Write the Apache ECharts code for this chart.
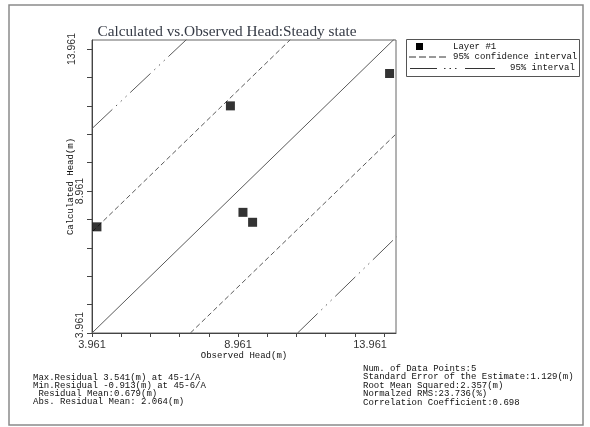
<!DOCTYPE html>
<html>
<head>
    <meta charset="utf-8">
    <title>Calculated vs. Observed Head</title>
    <script src="https://cdn.jsdelivr.net/npm/echarts@6/dist/echarts.min.js"></script>
    <style>
        html, body { margin: 0; padding: 0; background: #fff; }
        #chart { width: 590px; height: 427px; }
    </style>
</head>
<body>
    <div id="chart"></div>

    <script type="text/javascript">

    // values
    var observed   = [4.13, 8.70, 9.13, 9.46, 14.15];
    var calculated = [7.70, 11.96, 8.21, 7.86, 13.10];

    var tickValues = [3.961, 4.961, 5.961, 6.961, 7.961, 8.961, 9.961, 10.961, 11.961, 12.961, 13.961];
    var labelValues = [3.961, 8.961, 13.961];

    // reference lines (end points in head units)
    var oneToOne  = [[3.961, 3.961], [14.4, 14.4]];
    var confUpper = [[3.961, 7.52], [10.76, 14.3]];
    var confLower = [[7.33, 3.961], [14.4, 11.0]];
    var intUpper  = [[3.961, 11.16], [7.20, 14.3]];
    var intLower  = [[11.0, 3.961], [14.4, 7.36]];

    var leftStats = [
        'Max.Residual 3.541(m) at 45-1/A',
        'Min.Residual -0.913(m) at 45-6/A',
        ' Residual Mean:0.679(m)',
        'Abs. Residual Mean: 2.064(m)'
    ];
    var rightStats = [
        'Num. of Data Points:5',
        'Standard Error of the Estimate:1.129(m)',
        'Root Mean Squared:2.357(m)',
        'Normalzed RMS:23.736(%)',
        'Correlation Coefficient:0.698'
    ];

    var points = observed.map(function (x, i) { return [x, calculated[i]]; });

    var monoFont = '9px "Liberation Mono"';
    var textCol = '#111';
    var lineCol = '#5a5a5a';

    var myChart = echarts.init(document.getElementById('chart'), null, { renderer: 'canvas' });

    var option = {
        animation: false,
        backgroundColor: '#fff',
        title: {
            text: 'Calculated vs.Observed Head:Steady state',
            left: 222,
            top: 19,
            textAlign: 'center',
            textStyle: {
                fontFamily: 'Liberation Serif',
                fontWeight: 'normal',
                fontSize: 15.3,
                color: '#353a45'
            }
        },
        grid: {
            left: 92,
            top: 40,
            width: 304,
            height: 293,
            show: true,
            borderColor: '#666',
            borderWidth: 1
        },
        xAxis: {
            type: 'value',
            min: 3.961,
            max: 14.37,
            name: 'Observed Head(m)',
            nameLocation: 'middle',
            nameGap: 18,
            nameMoveOverlap: false,
            nameTextStyle: { fontFamily: 'Liberation Mono', fontSize: 9, color: textCol },
            axisLine: { show: true, onZero: false, lineStyle: { color: '#444' } },
            axisTick: { show: true, length: 4, customValues: tickValues, lineStyle: { color: '#444' } },
            splitLine: { show: false },
            axisLabel: {
                margin: 6,
                customValues: labelValues,
                fontFamily: 'Liberation Sans',
                fontSize: 11,
                color: '#333',
                formatter: function (v) {
                    var s = v.toFixed(3);
                    if (s === '13.961') return '{r|' + s + '}';
                    return s;
                },
                rich: {
                    r: { fontFamily: 'Liberation Sans', fontSize: 11, color: '#333', padding: [0, 28, 0, 0] }
                }
            }
        },
        yAxis: {
            type: 'value',
            min: 3.961,
            max: 14.28,
            name: 'Calculated Head(m)',
            nameLocation: 'middle',
            nameRotate: 90,
            nameGap: 17,
            nameMoveOverlap: false,
            nameTextStyle: { fontFamily: 'Liberation Mono', fontSize: 9, color: textCol },
            axisLine: { show: true, onZero: false, lineStyle: { color: '#444' } },
            axisTick: { show: true, length: 5, customValues: tickValues, lineStyle: { color: '#444' } },
            splitLine: { show: false },
            axisLabel: {
                margin: 6,
                rotate: 90,
                customValues: labelValues,
                fontFamily: 'Liberation Sans',
                fontSize: 10.5,
                color: '#333',
                formatter: function (v) {
                    var s = v.toFixed(3);
                    if (s === '3.961') return '{b|' + s + '}';
                    if (s === '13.961') return '{t|' + s + '}';
                    return s;
                },
                rich: {
                    b: { fontFamily: 'Liberation Sans', fontSize: 10.5, color: '#333', padding: [0, 0, 0, 16] },
                    t: { fontFamily: 'Liberation Sans', fontSize: 10.5, color: '#333', padding: [0, 0, 8, 0] }
                }
            }
        },
        series: [
            {
                name: '1:1',
                type: 'line',
                data: oneToOne,
                symbol: 'none',
                clip: true,
                lineStyle: { color: lineCol, width: 1 }
            },
            {
                name: '95% confidence interval',
                type: 'line',
                data: confUpper,
                symbol: 'none',
                clip: true,
                lineStyle: { color: lineCol, width: 1, type: [5, 3] }
            },
            {
                name: '95% confidence interval',
                type: 'line',
                data: confLower,
                symbol: 'none',
                clip: true,
                lineStyle: { color: lineCol, width: 1, type: [5, 3] }
            },
            {
                name: '95% interval',
                type: 'line',
                data: intUpper,
                symbol: 'none',
                clip: true,
                lineStyle: { color: lineCol, width: 1, type: [28, 5, 1.5, 5, 1.5, 5, 1.5, 5] }
            },
            {
                name: '95% interval',
                type: 'line',
                data: intLower,
                symbol: 'none',
                clip: true,
                lineStyle: { color: lineCol, width: 1, type: [28, 5, 1.5, 5, 1.5, 5, 1.5, 5] }
            },
            {
                name: 'Layer #1',
                type: 'scatter',
                data: points,
                symbol: 'rect',
                symbolSize: 9,
                itemStyle: { color: '#000' },
                z: 5
            }
        ],
        graphic: [
            // outer frame
            {
                type: 'rect',
                shape: { x: 9, y: 5, width: 574, height: 420 },
                style: { fill: 'none', stroke: '#8a8a8a', lineWidth: 1.5 },
                silent: true
            },
            // legend box
            {
                type: 'rect',
                shape: { x: 406.5, y: 39.5, width: 173, height: 37 },
                style: { fill: '#fff', stroke: '#555', lineWidth: 1 }
            },
            {
                type: 'rect',
                shape: { x: 416, y: 43, width: 7, height: 7 },
                style: { fill: '#000' }
            },
            {
                type: 'text',
                x: 453, y: 46.5,
                style: { text: 'Layer #1', font: monoFont, fill: textCol, verticalAlign: 'middle' }
            },
            {
                type: 'line',
                shape: { x1: 409, y1: 57, x2: 447, y2: 57 },
                style: { stroke: '#333', lineWidth: 1, lineDash: [7, 3] }
            },
            {
                type: 'text',
                x: 453, y: 56.5,
                style: { text: '95% confidence interval', font: monoFont, fill: textCol, verticalAlign: 'middle' }
            },
            {
                type: 'line',
                shape: { x1: 410, y1: 68.5, x2: 437, y2: 68.5 },
                style: { stroke: '#333', lineWidth: 1 }
            },
            {
                type: 'line',
                shape: { x1: 444, y1: 68.5, x2: 458, y2: 68.5 },
                style: { stroke: '#333', lineWidth: 1, lineDash: [1.5, 4] }
            },
            {
                type: 'line',
                shape: { x1: 465, y1: 68.5, x2: 495, y2: 68.5 },
                style: { stroke: '#333', lineWidth: 1 }
            },
            {
                type: 'text',
                x: 510, y: 67.5,
                style: { text: '95% interval', font: monoFont, fill: textCol, verticalAlign: 'middle' }
            },
            // statistics
            {
                type: 'text',
                x: 33, y: 374,
                style: { text: leftStats.join('\n'), font: monoFont, lineHeight: 8, fill: textCol }
            },
            {
                type: 'text',
                x: 363, y: 364,
                style: { text: rightStats.join('\n'), font: monoFont, lineHeight: 8.5, fill: textCol }
            }
        ]
    };

    myChart.setOption(option);

    window.onresize = function () {
        myChart.resize();
    };

    </script>
</body>
</html>
